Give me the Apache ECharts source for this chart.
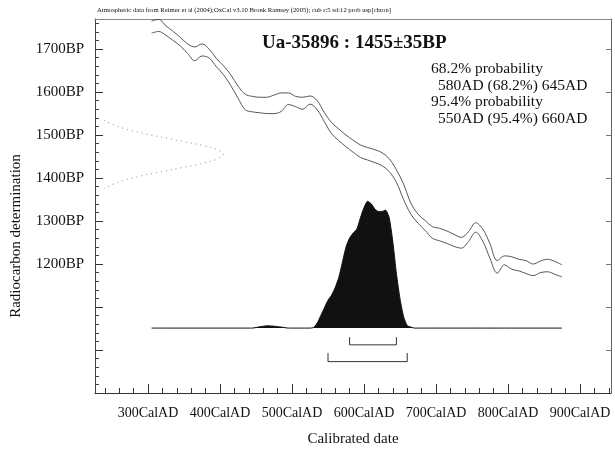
<!DOCTYPE html>
<html>
<head>
<meta charset="utf-8">
<script src="https://cdn.jsdelivr.net/npm/echarts@6/dist/echarts.min.js"></script>
<style>
  html, body { margin: 0; padding: 0; background: #fff; }
  #chart { width: 615px; height: 454px; }
</style>
</head>
<body>
<div id="chart"></div>
<script>
// Calibration curve (±1σ envelope), calendar years AD
const calYears = [305,315,325,335,345,355,365,375,385,395,405,415,425,435,445,455,465,475,485,495,
  505,515,525,535,545,555,565,575,585,595,605,615,625,635,645,655,665,675,685,695,
  705,715,725,735,745,755,765,775,785,795,805,815,825,835,845,855,865,875];
const curveUpperBP = [1765,1769,1754,1741,1727,1712,1705,1712,1700,1678,1661,1640,1614,1595,1590,1588,1588,1593,1598,1598,
  1590,1588,1591,1580,1552,1529,1514,1500,1488,1477,1471,1466,1459,1445,1419,1386,1342,1316,1301,1287,
  1283,1277,1269,1262,1275,1296,1281,1247,1208,1219,1217,1211,1208,1200,1207,1211,1206,1198];
const curveLowerBP = [1737,1741,1732,1720,1707,1690,1673,1684,1679,1659,1640,1615,1586,1559,1554,1552,1550,1550,1555,1571,
  1566,1560,1572,1559,1531,1503,1487,1473,1460,1448,1442,1436,1429,1415,1390,1350,1316,1295,1278,1260,
  1254,1248,1241,1237,1252,1274,1253,1213,1179,1198,1188,1184,1178,1173,1180,1182,1176,1170];

// Radiocarbon measurement and its relative probability (every 10 BP)
const sampleName = 'Ua-35896';
const measuredBP = 1455;
const measuredErr = 35;
const measBP = [1535,1525,1515,1505,1495,1485,1475,1465,1455,1445,1435,1425,1415,1405,1395,1385,1375];
const measProb = [0.07,0.135,0.23,0.36,0.52,0.69,0.85,0.96,1.00,0.96,0.85,0.69,0.52,0.36,0.23,0.135,0.07];

// Calibrated date distribution (relative probability)
const distYears = [305,445,455,465,475,485,495,525,530,535,540,545,550,555,560,565,570,575,580,585,590,595,
  600,605,610,615,620,625,630,635,640,645,650,655,660,665,670,875];
const distProb = [0,0,0.01,0.018,0.015,0.008,0,0,0.005,0.04,0.10,0.16,0.22,0.26,0.32,0.40,0.52,0.64,0.71,0.75,0.78,0.87,
  0.95,1.00,0.98,0.94,0.92,0.92,0.93,0.87,0.68,0.43,0.23,0.09,0.02,0.008,0,0];

// Calibrated ranges
const range68 = [580, 645];
const range95 = [550, 660];

// Axis labels
const xLabelYears = [300,400,500,600,700,800,900];
const yLabelBP = [1200,1300,1400,1500,1600,1700];

// ---- layout constants ----
const X_MIN = 226.4, X_MAX = 943;
const Y_MIN = 900, Y_MAX = 1770;
const DIST_BASE = 1051, DIST_HEIGHT = 295;   // BP units
const MEAS_WIDTH = 178;                      // years
const BR68 = { low: 1012, high: 1030 };
const BR95 = { low: 973, high: 993 };
const SERIF = "'Liberation Serif', 'Times New Roman', serif";

const xMajor = [], xMinor = [], yMajor = [], yMinor = [];
for (let v = 300; v <= 900; v += 100) xMajor.push(v);
for (let v = 240; v <= 940; v += 20) if (v % 100) xMinor.push(v);
for (let v = 1000; v <= 1700; v += 100) yMajor.push(v);
for (let v = 920; v <= 1760; v += 20) if (v % 100) yMinor.push(v);

function bracket(r, b) {
  return [[r[0], b.high], [r[0], b.low], [r[1], b.low], [r[1], b.high]];
}

const chart = echarts.init(document.getElementById('chart'), null, { renderer: 'canvas' });

const axisCommon = { type: 'value', splitLine: { show: false } };

function text(x, y, str, font, align, extra) {
  return Object.assign({ type: 'text', x: x, y: y,
    style: { text: str, font: font, fill: '#111', align: align || 'left', verticalAlign: 'middle' } }, extra || {});
}

chart.setOption({
  animation: false,
  backgroundColor: '#fff',
  grid: { left: 95, right: 4, top: 19, bottom: 61, containLabel: false, outerBoundsMode: 'none' },
  xAxis: [
    Object.assign({}, axisCommon, {
      min: X_MIN, max: X_MAX, position: 'bottom',
      axisLine: { show: true, lineStyle: { color: '#333', width: 1 } },
      axisTick: { show: true, inside: true, length: 9, customValues: xMajor, lineStyle: { color: '#333' } },
      axisLabel: { customValues: xLabelYears, formatter: v => v + 'CalAD', fontFamily: SERIF, fontSize: 14, color: '#111', margin: 13 }
    }),
    Object.assign({}, axisCommon, {
      min: X_MIN, max: X_MAX, position: 'bottom',
      axisLine: { show: false },
      axisTick: { show: true, inside: true, length: 5, customValues: xMinor, lineStyle: { color: '#333' } },
      axisLabel: { show: false }
    }),
    Object.assign({}, axisCommon, {
      min: X_MIN, max: X_MAX, position: 'top',
      axisLine: { show: true, lineStyle: { color: '#888', width: 1 } },
      axisTick: { show: false }, axisLabel: { show: false }
    })
  ],
  yAxis: [
    Object.assign({}, axisCommon, {
      min: Y_MIN, max: Y_MAX, position: 'left',
      axisLine: { show: true, lineStyle: { color: '#444', width: 1 } },
      axisTick: { show: true, inside: true, length: 8, customValues: yMajor, lineStyle: { color: '#333' } },
      axisLabel: { customValues: yLabelBP, formatter: v => v + 'BP', fontFamily: SERIF, fontSize: 15, color: '#111', margin: 11 }
    }),
    Object.assign({}, axisCommon, {
      min: Y_MIN, max: Y_MAX, position: 'left',
      axisLine: { show: false },
      axisTick: { show: true, inside: true, length: 4, customValues: yMinor, lineStyle: { color: '#444' } },
      axisLabel: { show: false }
    }),
    Object.assign({}, axisCommon, {
      min: Y_MIN, max: Y_MAX, position: 'right',
      axisLine: { show: true, lineStyle: { color: '#666', width: 1 } },
      axisTick: { show: true, inside: true, length: 5, customValues: yMajor, lineStyle: { color: '#777' } },
      axisLabel: { show: false }
    })
  ],
  series: [
    {
      name: 'curve-upper', type: 'line', xAxisIndex: 0, yAxisIndex: 0, smooth: 0.35, showSymbol: false,
      data: calYears.map((y, i) => [y, curveUpperBP[i]]),
      lineStyle: { color: '#444', width: 0.9 }
    },
    {
      name: 'curve-lower', type: 'line', xAxisIndex: 0, yAxisIndex: 0, smooth: 0.35, showSymbol: false,
      data: calYears.map((y, i) => [y, curveLowerBP[i]]),
      lineStyle: { color: '#444', width: 0.9 }
    },
    {
      name: 'measurement', type: 'line', xAxisIndex: 0, yAxisIndex: 0, smooth: 0.4, showSymbol: false,
      data: measBP.map((bp, i) => [X_MIN + measProb[i] * MEAS_WIDTH, bp]),
      lineStyle: { color: '#888', width: 1, type: [1, 4] }
    },
    {
      name: 'calibrated', type: 'line', xAxisIndex: 0, yAxisIndex: 0, smooth: 0.2, showSymbol: false,
      data: distYears.map((y, i) => [y, DIST_BASE + distProb[i] * DIST_HEIGHT]),
      lineStyle: { color: '#111', width: 1 },
      areaStyle: { color: '#111', opacity: 1, origin: DIST_BASE }
    },
    {
      name: 'range68', type: 'line', xAxisIndex: 0, yAxisIndex: 0, showSymbol: false,
      data: bracket(range68, BR68), lineStyle: { color: '#333', width: 1 }
    },
    {
      name: 'range95', type: 'line', xAxisIndex: 0, yAxisIndex: 0, showSymbol: false,
      data: bracket(range95, BR95), lineStyle: { color: '#333', width: 1 }
    }
  ],
  graphic: [
    text(97, 10, 'Atmospheric data from Reimer et al (2004);OxCal v3.10 Bronk Ramsey (2005); cub r:5 sd:12 prob usp[chron]', '6.65px ' + SERIF),
    text(262, 43, sampleName + ' : ' + measuredBP + '±' + measuredErr + 'BP', 'bold 19px ' + SERIF),
    text(431, 69, '68.2% probability', '15.5px ' + SERIF),
    text(438, 86, range68[0] + 'AD (68.2%) ' + range68[1] + 'AD', '15.5px ' + SERIF),
    text(431, 102, '95.4% probability', '15.5px ' + SERIF),
    text(438, 119, range95[0] + 'AD (95.4%) ' + range95[1] + 'AD', '15.5px ' + SERIF),
    text(353, 439, 'Calibrated date', '15px ' + SERIF, 'center'),
    text(16, 236, 'Radiocarbon determination', '15px ' + SERIF, 'center', { rotation: Math.PI / 2 })
  ]
});
</script>
</body>
</html>
